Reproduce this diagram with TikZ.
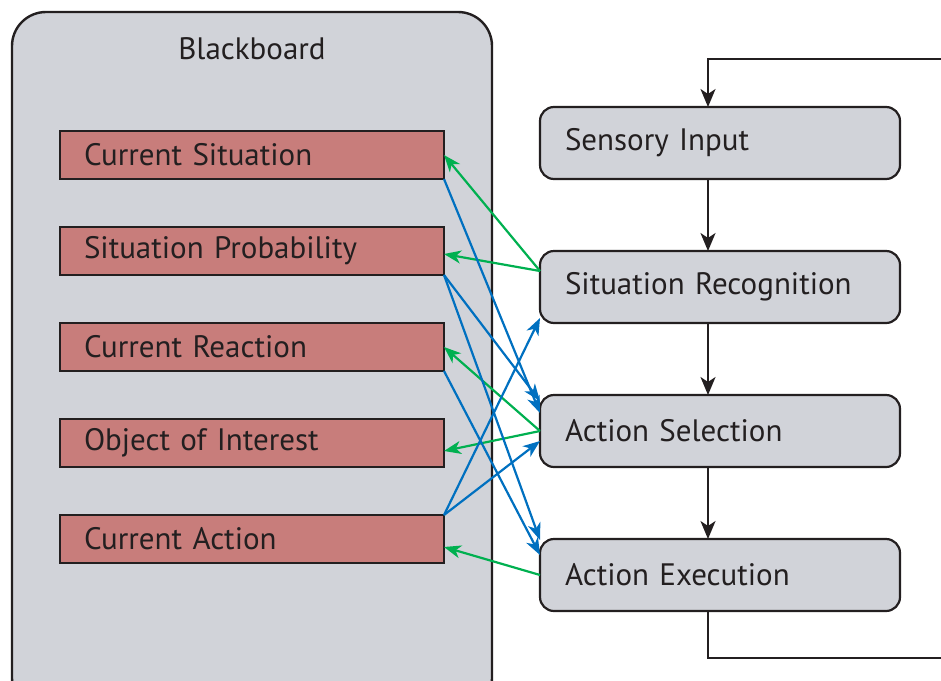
\documentclass[tikz,border=0pt]{standalone}
\usepackage{fontspec}
\setmainfont{PT Sans}
\usetikzlibrary{arrows.meta, positioning}
\definecolor{bbgrey}{RGB}{209,211,217}
\definecolor{slotred}{RGB}{200,125,123}
\definecolor{readblue}{RGB}{0,112,192}
\definecolor{writegreen}{RGB}{0,176,80}
\definecolor{ink}{RGB}{35,31,32}

\begin{document}
\begin{tikzpicture}[
    x=1pt, y=-1pt,
    node distance=48pt,
    every node/.style={text=ink, outer sep=0pt},
    board/.style={rectangle, draw=ink, line width=2.4pt, rounded corners=34pt,
                  fill=bbgrey, minimum width=480pt, minimum height=700pt},
    slot/.style={rectangle, draw=ink, line width=2pt, fill=slotred,
                 minimum height=48pt, text width=336pt, inner xsep=24pt, inner ysep=0pt,
                 align=left, font=\fontsize{31}{34}\selectfont},
    stage/.style={rectangle, draw=ink, line width=2.2pt, rounded corners=14pt,
                  fill=bbgrey, minimum height=72pt, text width=310pt, inner xsep=25pt,
                  align=left, font=\fontsize{31}{34}\selectfont},
    flow/.style={-{Stealth[length=18pt,width=15pt,inset=5pt]}, line width=2.2pt, draw=ink},
    rd/.style={-{Stealth[length=17pt,width=13pt,inset=5pt]}, line width=2.2pt, draw=readblue},
    wr/.style={-{Stealth[length=17pt,width=13pt,inset=5pt]}, line width=2.2pt, draw=writegreen}
]
\useasboundingbox (0,0) rectangle (941,680);

% blackboard
\node[board, anchor=north west] (board) at (12,12) {};
\node[font=\fontsize{31}{34}\selectfont] (title) at ([yshift=-37pt]board.north) {Blackboard};

\node[slot, anchor=north west] (cursit) at (60,131) {Current Situation};
\node[slot, below=of cursit]  (sitprob) {Situation Probability};
\node[slot, below=of sitprob] (curreact) {Current Reaction};
\node[slot, below=of curreact] (objint) {Object of Interest};
\node[slot, below=of objint]  (curact) {Current Action};

% processing chain
\node[stage, anchor=north west] (sensory) at (540,107) {Sensory Input};
\node[stage, below=72pt of sensory]   (recog) {Situation Recognition};
\node[stage, below=72pt of recog]     (select) {Action Selection};
\node[stage, below=72pt of select]    (exec) {Action Execution};

\draw[flow] ([xshift=-12pt]sensory.south) -- ([xshift=-12pt]recog.north);
\draw[flow] ([xshift=-12pt]recog.south) -- ([xshift=-12pt]select.north);
\draw[flow] ([xshift=-12pt]select.south) -- ([xshift=-12pt]exec.north);

% loop
\coordinate (loopin) at (941,59);
\coordinate (loopout) at (941,658);
\draw[flow] (loopin) -| ([xshift=-12pt]sensory.north);
\draw[line width=2.2pt, draw=ink] ([xshift=-12pt]exec.south) |- (loopout);

% writes
\draw[wr] ([yshift=16pt]recog.west) -- (cursit.east);
\draw[wr] ([yshift=16pt]recog.west) -- ([yshift=-3pt]sitprob.east);
\draw[wr] (select.west) -- (curreact.east);
\draw[wr] (select.west) -- ([yshift=-8pt]objint.east);
\draw[wr] (exec.west) -- ([yshift=-8pt]curact.east);

% reads
\draw[rd] (cursit.south east) -- ([yshift=18pt]select.west);
\draw[rd] (sitprob.south east) -- ([yshift=30pt]select.west);
\draw[rd] (sitprob.south east) -- ([yshift=35pt]exec.west);
\draw[rd] (curreact.south east) -- ([yshift=20pt]exec.west);
\draw[rd] (curact.north east) -- ([yshift=-31pt]recog.west);
\draw[rd] (curact.north east) -- ([yshift=-10pt]select.west);
\end{tikzpicture}
\end{document}
